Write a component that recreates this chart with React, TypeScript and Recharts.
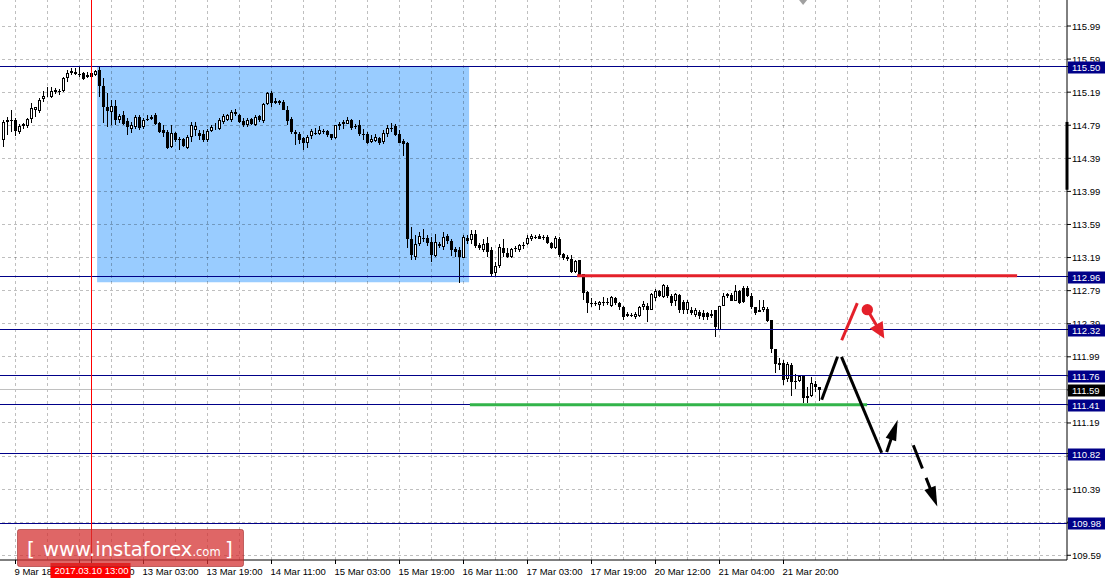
import React from 'react';
import { ComposedChart, Bar, XAxis, YAxis, ReferenceLine, ReferenceArea, ReferenceDot } from 'recharts';

// ---------- candle data (H1) ----------
const opens = [
  114.61,114.83,114.85,114.85,114.71,114.78,114.78,114.86,114.97,114.96,115.11,115.18,115.13,115.19,115.20,115.20,115.36,115.42,115.43,115.41,
  115.42,115.37,115.42,115.40,115.46,115.26,115.01,114.95,115.02,114.85,114.91,114.84,114.74,114.77,114.89,114.77,114.86,114.87,114.91,114.82,
  114.73,114.71,114.53,114.70,114.62,114.62,114.51,114.65,114.73,114.70,114.68,114.61,114.72,114.78,114.75,114.83,114.85,114.85,114.95,114.91,
  114.84,114.79,114.86,114.79,114.90,114.84,115.05,115.18,115.06,115.08,115.07,114.98,114.86,114.71,114.69,114.63,114.58,114.66,114.70,114.69,
  114.72,114.72,114.68,114.63,114.78,114.80,114.81,114.85,114.78,114.79,114.69,114.68,114.59,114.60,114.64,114.59,114.68,114.76,114.78,114.68,
  114.60,114.58,113.42,113.20,113.36,113.43,113.43,113.38,113.21,113.36,113.32,113.45,113.39,113.29,113.28,113.19,113.43,113.40,113.47,113.34,
  113.28,113.37,113.28,113.00,113.09,113.31,113.25,113.20,113.30,113.28,113.34,113.35,113.41,113.44,113.45,113.44,113.44,113.37,113.30,113.42,
  113.23,113.20,113.17,113.01,113.16,112.99,112.77,112.64,112.64,112.62,112.65,112.65,112.60,112.70,112.64,112.59,112.48,112.49,112.47,112.48,
  112.59,112.61,112.56,112.70,112.78,112.71,112.84,112.72,112.66,112.74,112.65,112.55,112.56,112.49,112.53,112.52,112.52,112.48,112.55,112.32,
  112.61,112.72,112.74,112.67,112.78,112.82,112.82,112.72,112.59,112.53,112.55,112.57,112.44,112.09,111.89,111.92,111.72,111.89,111.70,111.70,
  111.76,111.49,111.51,111.66,111.62,
];
const highs = [
  114.85,114.89,114.97,114.88,114.80,114.82,114.88,115.06,115.01,115.12,115.20,115.25,115.25,115.24,115.23,115.37,115.46,115.48,115.48,115.49,
  115.43,115.43,115.44,115.46,115.51,115.36,115.18,115.09,115.09,114.93,114.96,114.88,114.83,114.91,114.91,114.88,114.91,114.91,114.94,114.83,
  114.79,114.73,114.79,114.71,114.65,114.63,114.67,114.83,114.83,114.73,114.73,114.74,114.79,114.82,114.88,114.92,114.93,114.97,114.99,114.93,
  114.88,114.88,114.88,114.91,114.91,115.06,115.19,115.21,115.12,115.10,115.10,115.02,114.89,114.73,114.71,114.65,114.67,114.74,114.76,114.78,
  114.75,114.73,114.69,114.79,114.83,114.85,114.89,114.87,114.80,114.85,114.75,114.71,114.67,114.69,114.65,114.73,114.79,114.82,114.81,114.73,
  114.62,114.59,113.56,113.46,113.50,113.53,113.46,113.44,113.48,113.38,113.50,113.47,113.42,113.32,113.32,113.46,113.46,113.52,113.52,113.37,
  113.42,113.44,113.32,113.14,113.36,113.42,113.31,113.31,113.33,113.36,113.38,113.46,113.48,113.46,113.47,113.46,113.46,113.38,113.45,113.44,
  113.25,113.22,113.22,113.16,113.16,112.99,112.79,112.70,112.67,112.67,112.71,112.70,112.72,112.71,112.65,112.60,112.53,112.52,112.53,112.60,
  112.66,112.64,112.76,112.81,112.80,112.87,112.86,112.75,112.76,112.75,112.68,112.68,112.59,112.58,112.56,112.55,112.53,112.56,112.56,112.61,
  112.76,112.76,112.76,112.86,112.80,112.85,112.85,112.76,112.59,112.68,112.68,112.59,112.44,112.09,111.97,111.95,111.93,111.91,111.78,111.77,
  111.77,111.63,111.75,111.70,111.63,
];
const lows = [
  114.53,114.67,114.71,114.66,114.69,114.75,114.76,114.82,114.89,114.94,115.07,115.13,115.12,115.17,115.16,115.19,115.31,115.40,115.40,115.37,
  115.34,115.36,115.35,115.39,115.13,114.82,114.77,114.79,114.79,114.82,114.79,114.67,114.70,114.75,114.73,114.75,114.84,114.85,114.79,114.70,
  114.65,114.50,114.52,114.59,114.49,114.53,114.50,114.59,114.66,114.61,114.59,114.59,114.71,114.73,114.73,114.81,114.84,114.83,114.90,114.82,
  114.77,114.77,114.79,114.78,114.83,114.82,115.03,115.01,115.05,115.03,114.97,114.79,114.69,114.55,114.56,114.49,114.51,114.62,114.67,114.67,
  114.68,114.65,114.61,114.62,114.73,114.75,114.80,114.73,114.75,114.66,114.61,114.56,114.57,114.59,114.55,114.56,114.65,114.71,114.66,114.57,
  114.42,113.30,113.16,113.16,113.33,113.38,113.33,113.14,113.20,113.31,113.28,113.36,113.21,113.20,112.88,113.18,113.36,113.35,113.31,113.28,
  113.26,113.20,112.96,112.96,113.06,113.20,113.19,113.18,113.26,113.26,113.29,113.34,113.39,113.42,113.41,113.40,113.36,113.29,113.29,113.20,
  113.16,113.15,113.00,113.00,112.95,112.68,112.52,112.59,112.60,112.56,112.61,112.62,112.59,112.62,112.56,112.43,112.47,112.47,112.45,112.47,
  112.55,112.41,112.55,112.67,112.71,112.70,112.70,112.60,112.61,112.52,112.51,112.51,112.49,112.47,112.45,112.44,112.44,112.46,112.23,112.31,
  112.60,112.70,112.66,112.66,112.63,112.64,112.71,112.57,112.50,112.53,112.53,112.41,112.03,111.79,111.83,111.65,111.69,111.51,111.60,111.69,
  111.43,111.43,111.50,111.57,111.45,
];
const closes = [
  114.83,114.85,114.84,114.72,114.78,114.80,114.86,115.00,115.01,115.10,115.14,115.19,115.21,115.22,115.20,115.36,115.42,115.44,115.41,115.41,
  115.35,115.40,115.37,115.44,115.26,115.01,114.96,115.02,114.85,114.90,114.81,114.77,114.79,114.89,114.76,114.85,114.86,114.89,114.81,114.71,
  114.70,114.51,114.70,114.61,114.62,114.54,114.65,114.79,114.78,114.66,114.61,114.72,114.77,114.79,114.85,114.90,114.91,114.95,114.92,114.83,
  114.79,114.85,114.81,114.89,114.85,115.05,115.18,115.06,115.08,115.06,114.98,114.84,114.71,114.68,114.61,114.57,114.65,114.72,114.70,114.73,
  114.72,114.67,114.63,114.79,114.81,114.83,114.85,114.76,114.78,114.68,114.69,114.58,114.62,114.65,114.58,114.70,114.76,114.76,114.67,114.58,
  114.56,113.42,113.22,113.35,113.45,113.43,113.37,113.22,113.38,113.33,113.44,113.39,113.28,113.26,113.20,113.44,113.39,113.48,113.33,113.30,
  113.35,113.26,112.99,113.09,113.32,113.24,113.20,113.29,113.30,113.34,113.34,113.43,113.45,113.44,113.42,113.44,113.37,113.30,113.43,113.22,
  113.18,113.17,113.02,113.15,112.98,112.76,112.64,112.64,112.64,112.65,112.65,112.65,112.71,112.64,112.59,112.47,112.51,112.49,112.51,112.59,
  112.63,112.56,112.75,112.79,112.72,112.86,112.72,112.64,112.75,112.55,112.55,112.65,112.52,112.55,112.48,112.47,112.47,112.51,112.35,112.60,
  112.72,112.75,112.67,112.78,112.64,112.65,112.72,112.59,112.52,112.56,112.59,112.42,112.09,111.90,111.92,111.71,111.90,111.69,111.70,111.76,
  111.49,111.52,111.67,111.62,111.59,
];

// ---------- axes ----------
const timeTickIdx = [3, 19, 35, 51, 67, 83, 99, 115, 131, 147, 163, 179, 195];
const timeTickLabels = ['9 Mar 18:00', '10 Mar 10:00', '13 Mar 03:00', '13 Mar 19:00', '14 Mar 11:00', '15 Mar 03:00', '15 Mar 19:00', '16 Mar 11:00', '17 Mar 03:00', '17 Mar 19:00', '20 Mar 12:00', '21 Mar 04:00', '21 Mar 20:00'];
const priceTicks = [109.59, 109.99, 110.39, 110.79, 111.19, 111.59, 111.99, 112.39, 112.79, 113.19, 113.59, 113.99, 114.39, 114.79, 115.19, 115.59, 115.99];
const gridStepBars = 8;

// ---------- levels and drawings (data units: bar index / price) ----------
const levelPrices = [115.50, 112.96, 112.32, 111.76, 111.41, 110.82, 109.98];
const lastPrice = 111.59;
const cursorBar = 22;
const cursorLabel = '2017.03.10 13:00';
const boxX = [23.4, 116.4];
const boxY = [112.89, 115.50];
const redLevel = [{ x: 143.4, y: 112.97 }, { x: 253.4, y: 112.97 }];
const greenLevel = [{ x: 116.6, y: 111.41 }, { x: 215.9, y: 111.41 }];
const zigUp = [{ x: 204.55, y: 111.47 }, { x: 208.5, y: 111.99 }];
const zigDown = [{ x: 209.5, y: 111.99 }, { x: 219.55, y: 110.83 }];
const upArrow = [{ x: 220.8, y: 110.84 }, { x: 223.55, y: 111.23 }];
const dashArrow = [{ x: 227.45, y: 110.92 }, { x: 233.45, y: 110.18 }];
const redStroke = [{ x: 209.55, y: 112.19 }, { x: 213.45, y: 112.64 }];
const redDot = { x: 215.95, y: 112.56 };
const redArrow = [{ x: 215.95, y: 112.56 }, { x: 220.2, y: 112.21 }];
const shiftMarkBar = 199.9;
const spreadBar = [114.83, 114.01];

const X0 = -0.875;
const X1 = X0 + 1067 / 4;
const Y1 = 116.3044;
const Y0 = Y1 - 560 / 82.7;

const FONT = '"Liberation Sans", Arial, sans-serif';
const RED = '#E4202A';
const NAVY = '#000088';

// price labels first, then the coloured price tags (drawn later, so on top)
const tagPrices = [...levelPrices, lastPrice];
const tagColors = [...levelPrices.map(() => NAVY), '#000'];
const yAxisTicks = [...priceTicks.filter((t) => t !== lastPrice), ...tagPrices];
const xAxisTicks = [...timeTickIdx, cursorBar];

function Candle(props: any) {
  const { x, y, width, height, payload } = props;
  if (x == null || y == null || !payload) return null;
  const { o, h, l, c } = payload;
  const top = Math.min(y, y + height);
  const bot = Math.max(y, y + height);
  const k = h - l > 0 ? (bot - top) / (h - l) : 0;
  const py = (p: number) => top + (h - p) * k;
  const cx = Math.floor(x + width / 2) + 0.5;
  const yh = Math.round(py(h));
  const yl = Math.round(py(l));
  const yTop = Math.round(py(Math.max(o, c)));
  const yBot = Math.round(py(Math.min(o, c)));
  const parts: any[] = [
    <line key="w" x1={cx} x2={cx} y1={yh} y2={Math.max(yl, yh + 1)} stroke="#000" strokeWidth={1} />,
  ];
  if (yBot - yTop < 1) {
    parts.push(<line key="d" x1={cx - 1.5} x2={cx + 1.5} y1={yTop + 0.5} y2={yTop + 0.5} stroke="#000" strokeWidth={1} />);
  } else if (c >= o) {
    parts.push(<rect key="b" x={cx - 1} y={yTop + 0.5} width={2} height={Math.max(yBot - yTop - 1, 0)} fill="#fff" stroke="#000" strokeWidth={1} />);
  } else {
    parts.push(<rect key="b" x={cx - 1.5} y={yTop} width={3} height={yBot - yTop} fill="#000" />);
  }
  return <g>{parts}</g>;
}

function arrowShape(color: string, w: number, headLen: number, headW: number, dash?: string) {
  return (p: any) => {
    const { x1, y1, x2, y2 } = p;
    const dx = x2 - x1, dy = y2 - y1;
    const len = Math.hypot(dx, dy) || 1;
    const ux = dx / len, uy = dy / len;
    const bx = x2 - ux * headLen, by = y2 - uy * headLen;
    const nx = -uy, ny = ux;
    const pts = `${x2},${y2} ${bx + nx * headW / 2},${by + ny * headW / 2} ${bx - nx * headW / 2},${by - ny * headW / 2}`;
    return (
      <g>
        <line x1={x1} y1={y1} x2={bx + ux * 2} y2={by + uy * 2} stroke={color} strokeWidth={w} strokeDasharray={dash} />
        <polygon points={pts} fill={color} />
      </g>
    );
  };
}

function crispLine(color: string) {
  return (p: any) => {
    const { x1, y1, x2, y2 } = p;
    if (x1 == null) return null;
    const sx = (v: number) => Math.floor(v) + 0.5;
    const horiz = Math.abs(y1 - y2) < 0.01;
    return horiz
      ? <line x1={x1} x2={x2} y1={sx(y1)} y2={sx(y2)} stroke={color} strokeWidth={1} />
      : <line x1={sx(x1)} x2={sx(x2)} y1={y1} y2={y2} stroke={color} strokeWidth={1} />;
  };
}

function shiftMark(p: any) {
  const { cx, cy } = p;
  if (cx == null || cy == null) return null;
  return <polygon points={`${cx - 4},${cy} ${cx + 4},${cy} ${cx},${cy + 5}`} fill="#A0A0A0" />;
}

function TimeTick(p: any) {
  const { x, y, payload } = p;
  if (payload.value === cursorBar) {
    return (
      <g>
        <rect x={Math.round(x) - 40.5} y={y - 3} width={80} height={15} fill="#FF0000" />
        <text x={x} y={y + 8} fill="#fff" fontSize={9.5} fontFamily={FONT} textAnchor="middle">{cursorLabel}</text>
      </g>
    );
  }
  const k = timeTickIdx.indexOf(payload.value);
  return (
    <text x={x - 1} y={y} dy={9} fontSize={9.5} fontFamily={FONT} fill="#000" textAnchor="start">
      {k >= 0 ? timeTickLabels[k] : ''}
    </text>
  );
}

function PriceTick(p: any) {
  const { x, y, payload, index } = p;
  const nPlain = yAxisTicks.length - tagPrices.length;
  if (index >= nPlain) {
    const k = index - nPlain;
    const yy = Math.round(y);
    return (
      <g>
        <rect x={x - 4} y={yy - 5.5} width={37} height={12} fill={tagColors[k]} />
        <text x={x} y={yy + 4} fill="#fff" fontSize={9.5} fontFamily={FONT}>{Number(payload.value).toFixed(2)}</text>
      </g>
    );
  }
  return (
    <text x={x} y={y} dy={3.5} fontSize={9.5} fontFamily={FONT} fill="#000" textAnchor="start">
      {Number(payload.value).toFixed(2)}
    </text>
  );
}

export default function App() {
  const rows = opens.map((o, i) => ({ i, o, h: highs[i], l: lows[i], c: closes[i], range: [lows[i], highs[i]] }));
  const gridBars: number[] = [];
  for (let g = timeTickIdx[0]; g < X1; g += gridStepBars) gridBars.push(g);
  const gridStyle = { stroke: '#000', strokeOpacity: 0.25, strokeDasharray: '3 3', shapeRendering: 'crispEdges' } as any;

  return (
    <div style={{ position: 'absolute', left: 0, top: 0, width: 1106, height: 581, background: '#fff', overflow: 'hidden' }}>
      <ComposedChart width={1106} height={581} data={rows} margin={{ top: 0, right: 0, bottom: 0, left: 0 }}>
        <ReferenceArea x1={boxX[0]} x2={boxX[1]} y1={boxY[0]} y2={boxY[1]} fill="#99CCFF" fillOpacity={1} stroke="none" zIndex={100} />

        {priceTicks.map((t) => (
          <ReferenceLine key={'hg' + t} y={t} {...gridStyle} zIndex={150} />
        ))}
        {gridBars.map((g) => (
          <ReferenceLine key={'vg' + g} x={g} {...gridStyle} zIndex={150} />
        ))}

        <ReferenceLine y={lastPrice} stroke="#C0C0C0" zIndex={160} shape={crispLine('#C0C0C0')} />

        <Bar dataKey="range" barSize={3} shape={(p: any) => <Candle {...p} />} isAnimationActive={false} zIndex={300} />

        {levelPrices.map((p) => (
          <ReferenceLine key={'lv' + p} y={p} stroke={NAVY} zIndex={400} shape={crispLine(NAVY)} />
        ))}
        <ReferenceLine x={cursorBar} stroke="#FF0000" zIndex={410} shape={crispLine('#FF0000')} />
        <ReferenceLine segment={[{ x: X1, y: spreadBar[0] }, { x: X1, y: spreadBar[1] }]} stroke="#000" strokeWidth={3} zIndex={410} />

        <ReferenceLine segment={redLevel} stroke={RED} strokeWidth={3} zIndex={450} />
        <ReferenceLine segment={greenLevel} stroke="#33B44A" strokeWidth={3} zIndex={450} />

        <ReferenceLine segment={zigUp} stroke="#000" strokeWidth={3} zIndex={500} />
        <ReferenceLine segment={zigDown} stroke="#000" strokeWidth={3} zIndex={500} />
        <ReferenceLine segment={upArrow} stroke="#000" strokeWidth={3} zIndex={500} shape={arrowShape('#000', 3, 21, 11)} />
        <ReferenceLine segment={dashArrow} stroke="#000" strokeWidth={3} zIndex={500} shape={arrowShape('#000', 3, 20, 12, '25 10')} />
        <ReferenceLine segment={redStroke} stroke={RED} strokeWidth={3} zIndex={500} />
        <ReferenceLine segment={redArrow} stroke={RED} strokeWidth={3} zIndex={500} shape={arrowShape(RED, 3, 16, 15)} />
        <ReferenceDot x={redDot.x} y={redDot.y} r={5.7} fill={RED} stroke="none" zIndex={500} />
        <ReferenceDot x={shiftMarkBar} y={Y1} r={4} shape={shiftMark} zIndex={500} />

        <XAxis dataKey="i" type="number" domain={[X0, X1]} allowDataOverflow ticks={xAxisTicks} interval={0}
          height={21} tickSize={4} tickMargin={2} axisLine={{ stroke: '#000' }} tickLine={{ stroke: '#000' }}
          tick={(p: any) => <TimeTick {...p} />} />
        <YAxis orientation="right" type="number" domain={[Y0, Y1]} allowDataOverflow ticks={yAxisTicks} interval={0}
          width={39} tickSize={4} tickMargin={1} axisLine={{ stroke: '#000' }} tickLine={{ stroke: '#000' }}
          tick={(p: any) => <PriceTick {...p} />} />
      </ComposedChart>

      <svg width={1106} height={581} style={{ position: 'absolute', left: 0, top: 0, pointerEvents: 'none' }}>
        <rect x={17.5} y={529.5} width={226} height={37} rx={2} fill="rgb(212,48,48)" fillOpacity={0.74} stroke="rgb(160,40,40)" strokeOpacity={0.6} />
        <text x={27} y={556} fontSize={20} fill="#fff" fontFamily='"DejaVu Sans", Verdana, sans-serif'>[</text>
        <text x={43} y={556} fontSize={19.5} fill="#fff" fontFamily='"DejaVu Sans", Verdana, sans-serif'>
          www.instaforex<tspan fontSize={11.5}>.com</tspan>
        </text>
        <text x={225} y={556} fontSize={20} fill="#fff" fontFamily='"DejaVu Sans", Verdana, sans-serif'>]</text>
      </svg>
    </div>
  );
}
